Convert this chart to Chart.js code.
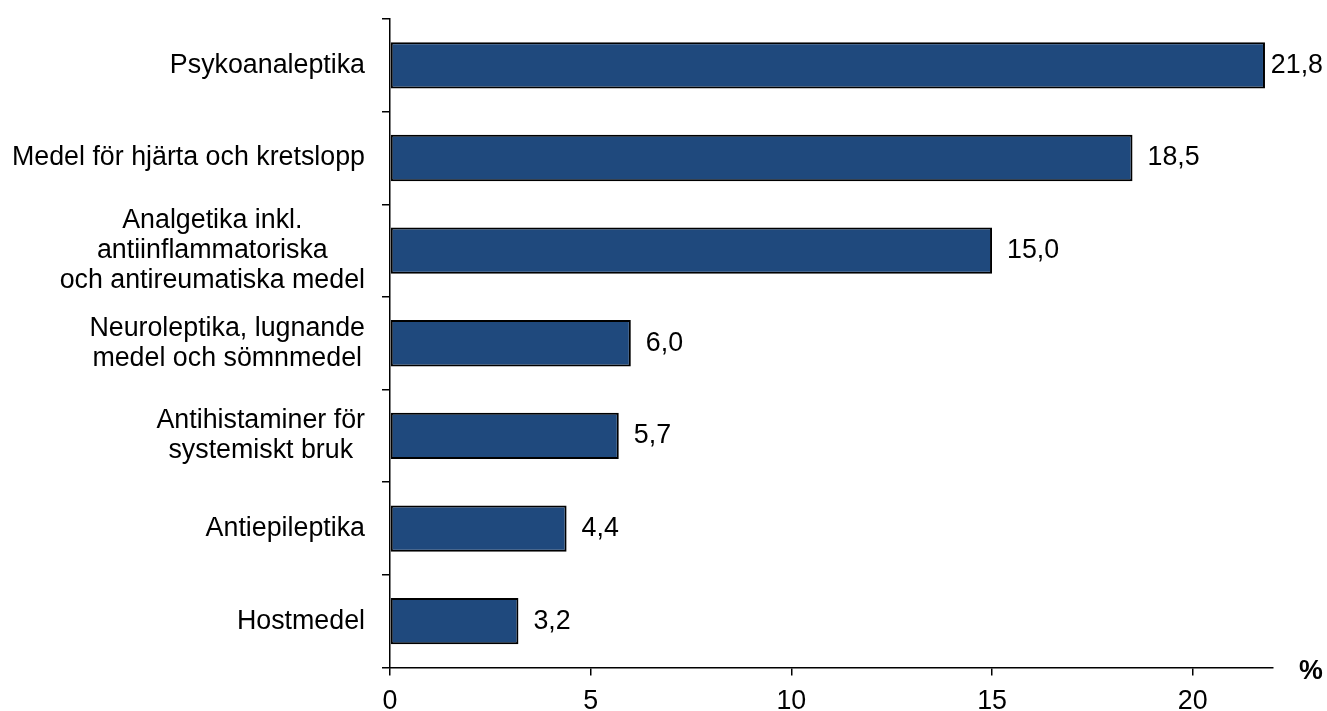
<!DOCTYPE html>
<html>
<head>
<meta charset="utf-8">
<script src="https://cdn.jsdelivr.net/npm/chart.js@4/dist/chart.umd.min.js"></script>
<style>
  html,body{margin:0;padding:0;background:#fff;}
  #wrap{width:1327px;height:711px;}
</style>
</head>
<body>
<div id="wrap"><canvas id="chart" width="1327" height="711"></canvas></div>
<script>
/* ---------- data ---------- */
const categories = [
  ['Psykoanaleptika'],
  ['Medel för hjärta och kretslopp'],
  ['Analgetika inkl.', 'antiinflammatoriska', 'och antireumatiska medel'],
  ['Neuroleptika, lugnande', 'medel och sömnmedel'],
  ['Antihistaminer för', 'systemiskt bruk'],
  ['Antiepileptika'],
  ['Hostmedel']
];
const values = [21.8, 18.5, 15.0, 6.0, 5.7, 4.4, 3.2];
const xTicks = [0, 5, 10, 15, 20];
const xMax = 22;
const unitLabel = '%';

/* ---------- style ---------- */
const FONT = '"Liberation Sans", Arial, sans-serif';
const FSIZE = 26.8;
const fmt = v => v.toFixed(1).replace('.', ',');

/* ---------- plugins ---------- */
// category labels: block right aligned to axis, lines centred inside the block
const catLabels = {
  id:'catLabels',
  afterDraw(chart){
    const ctx = chart.ctx, y = chart.scales.y;
    ctx.save();
    ctx.font = `${FSIZE}px ${FONT}`;
    ctx.fillStyle = '#000';
    ctx.textAlign = 'center';
    ctx.textBaseline = 'middle';
    const right = y.right - 25, lh = 30;
    categories.forEach((lines, i) => {
      const w = Math.max(...lines.map(l => ctx.measureText(l).width));
      const cx = right - w/2;
      const cy = y.getPixelForValue(i);
      lines.forEach((l, k) => {
        ctx.fillText(l, cx, cy + (k - (lines.length-1)/2) * lh);
      });
    });
    ctx.restore();
  }
};
// value labels at bar end, kept inside the canvas
const valLabels = {
  id:'valLabels',
  afterDatasetsDraw(chart){
    const ctx = chart.ctx;
    ctx.save();
    ctx.font = `${FSIZE}px ${FONT}`;
    ctx.fillStyle = '#000';
    ctx.textAlign = 'left';
    ctx.textBaseline = 'middle';
    chart.getDatasetMeta(0).data.forEach((bar, i) => {
      const t = fmt(values[i]);
      const w = ctx.measureText(t).width;
      const x = Math.min(bar.x + 15, chart.width - 4 - w);
      ctx.fillText(t, x, bar.y);
    });
    // unit label
    ctx.font = `bold ${FSIZE}px ${FONT}`;
    ctx.fillText(unitLabel, chart.chartArea.right + 26, chart.chartArea.bottom + 4);
    ctx.restore();
  }
};

/* ---------- chart ---------- */
new Chart(document.getElementById('chart').getContext('2d'), {
  type:'bar',
  data:{
    labels: categories,
    datasets:[{
      data: values,
      backgroundColor:'#1F497D',
      borderColor:'#000',
      borderWidth:2,
      borderSkipped:false,
      barPercentage:0.5,
      categoryPercentage:1
    }]
  },
  options:{
    indexAxis:'y',
    responsive:false,
    animation:false,
    layout:{padding:{top:19, right:54, bottom:0, left:0}},
    plugins:{legend:{display:false}, tooltip:{enabled:false}},
    scales:{
      x:{
        min:0, max:xMax,
        ticks:{
          stepSize:5, color:'#000', padding:10,
          font:{family:FONT, size:FSIZE}
        },
        afterBuildTicks: s => { s.ticks = xTicks.map(v => ({value:v})); },
        afterFit: s => { s.height = 43.5; },
        grid:{drawOnChartArea:false, drawTicks:true, tickLength:8, color:'#000', lineWidth:1.5},
        border:{display:true, color:'#000', width:1.5}
      },
      y:{
        ticks:{display:false},
        afterFit: s => { s.width = 390; },
        grid:{drawOnChartArea:false, drawTicks:true, tickLength:8, color:'#000', lineWidth:1.5, offset:true},
        border:{display:true, color:'#000', width:1.5}
      }
    }
  },
  plugins:[catLabels, valLabels]
});
</script>
</body>
</html>
